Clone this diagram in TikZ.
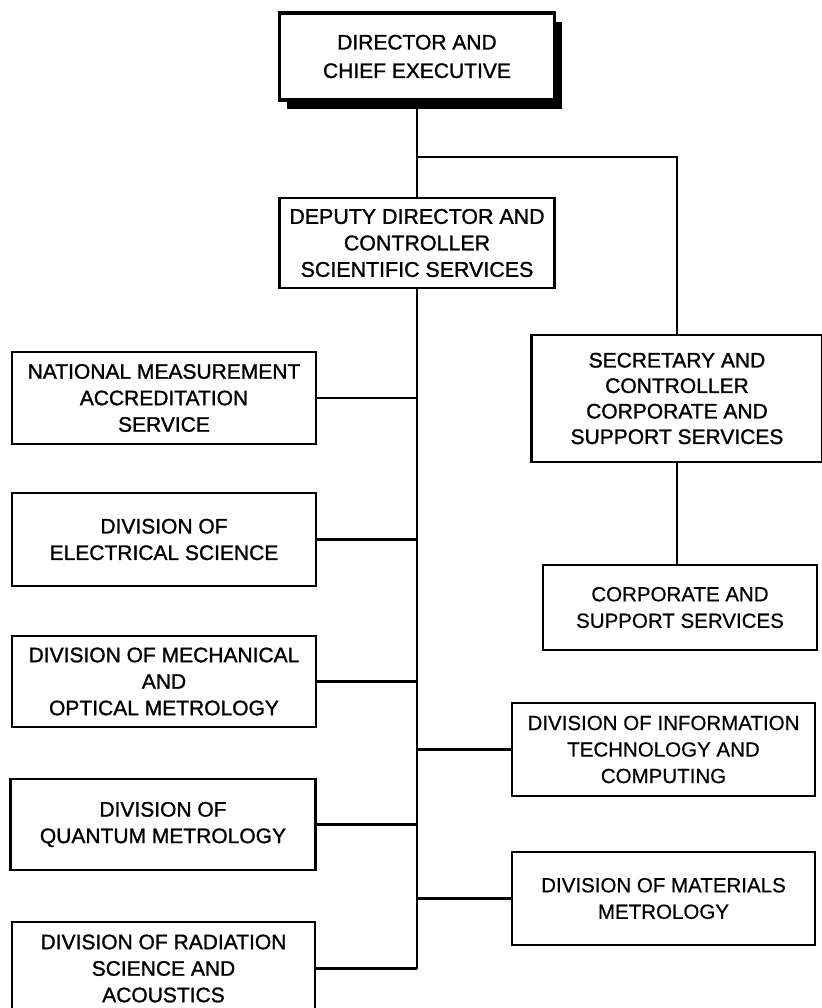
\documentclass[tikz,border=0pt]{standalone}
\usepackage{fontspec}
\setmainfont{Liberation Sans}
\newfontfamily\heavyfont[FakeBold=1.2]{Liberation Sans}
\newfontfamily\lightfont[FakeBold=0.5]{Liberation Sans}
\usetikzlibrary{shadows}
\begin{document}
\begin{tikzpicture}[x=1pt,y=-1pt,
  box/.style={draw, line width=2.4pt, fill=white, inner sep=0pt, align=center,
    font=\heavyfont\fontsize{21}{26.5}\selectfont},
  lbox/.style={box, minimum width=304pt, minimum height=92pt},
  rbox/.style={box, minimum width=303pt, minimum height=93pt, font=\lightfont\fontsize{20.5}{26.5}\selectfont},
  topbox/.style={box, line width=3.2pt, font=\heavyfont\fontsize{21}{28.5}\selectfont,
    general shadow={fill=black, shadow xshift=7pt, shadow yshift=-9pt}},
  link/.style={line width=2.2pt}]
\useasboundingbox (0,0) rectangle (821,1008);

\node[topbox, minimum width=275pt, minimum height=87pt] (dir) at (417,56.5) {DIRECTOR AND\\CHIEF EXECUTIVE};
\node[box, minimum width=275pt, minimum height=90pt, font=\heavyfont\fontsize{21.4}{26.5}\selectfont] (dep) at (417,243) {DEPUTY DIRECTOR AND\\CONTROLLER\\SCIENTIFIC SERVICES};
\node[box, minimum width=291pt, minimum height=127pt, font=\heavyfont\fontsize{21}{25.5}\selectfont] (sec) at (677,398.5) {SECRETARY AND\\CONTROLLER\\CORPORATE AND\\SUPPORT SERVICES};
\node[rbox, minimum width=274pt, minimum height=85pt] (corp) at (680,607.5) {CORPORATE AND\\SUPPORT SERVICES};

\node[lbox] (nmas) at (164,398) {NATIONAL MEASUREMENT\\ACCREDITATION\\SERVICE};
\node[lbox, minimum height=93pt] (elec) at (164,539.5) {DIVISION OF\\ELECTRICAL SCIENCE};
\node[lbox, minimum height=91pt] (mech) at (164,681.5) {DIVISION OF MECHANICAL\\AND\\OPTICAL METROLOGY};
\node[lbox, minimum width=305pt, minimum height=91pt] (quant) at (163,824.5) {DIVISION OF\\QUANTUM METROLOGY};
\node[lbox, minimum width=303pt, minimum height=93pt] (rad) at (163.5,968.5) {DIVISION OF RADIATION\\SCIENCE AND\\ACOUSTICS};

\node[rbox] (it) at (663.5,749.5) {DIVISION OF INFORMATION\\TECHNOLOGY AND\\COMPUTING};
\node[rbox] (mat) at (663.5,898.5) {DIVISION OF MATERIALS\\METROLOGY};

\coordinate (br) at (417,157);

\draw[link] (dir.south) -- (dep.north);
\draw[link] (br) -| (sec.north);
\draw[link] (sec.south) -- (sec.south |- corp.north);
\draw[link] (dep.south) -- (dep.south |- rad.east);
\draw[link] (nmas.east) -- (nmas.east -| dep.south);
\draw[link] (elec.east) -- (elec.east -| dep.south);
\draw[link] (mech.east) -- (mech.east -| dep.south);
\draw[link] (quant.east) -- (quant.east -| dep.south);
\draw[link] (rad.east) -- (rad.east -| dep.south);
\draw[link] (it.west) -- (it.west -| dep.south);
\draw[link] (mat.west) -- (mat.west -| dep.south);
\end{tikzpicture}
\end{document}
